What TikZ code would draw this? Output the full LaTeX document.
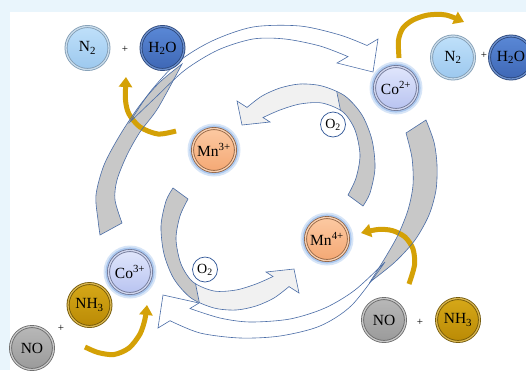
\documentclass[tikz,border=0pt]{standalone}
\usepackage{fontspec}
\setmainfont{Liberation Serif}
\usetikzlibrary{arrows.meta}
\definecolor{bgblue}{HTML}{E9F5FC}
\definecolor{edge}{HTML}{4A6DA7}
\definecolor{band}{HTML}{C8C8C8}
\definecolor{lightband}{HTML}{F1F1F1}
\definecolor{gold}{HTML}{D4A106}
\definecolor{golddk}{HTML}{A77E00}
\definecolor{glow}{HTML}{8FB6EA}
\definecolor{otwoedge}{HTML}{2F5597}
\definecolor{ntT}{HTML}{BFE0FA}\definecolor{ntB}{HTML}{9CC8EE}\definecolor{ntR}{HTML}{7F9BB3}\definecolor{ntL}{HTML}{C9DCEB}
\definecolor{hoT}{HTML}{5A88D6}\definecolor{hoB}{HTML}{3E67B5}\definecolor{hoR}{HTML}{2A4579}\definecolor{hoL}{HTML}{6C8FCB}
\definecolor{coT}{HTML}{E0E6FC}\definecolor{coB}{HTML}{B8C3F0}\definecolor{coR}{HTML}{6D7493}\definecolor{coL}{HTML}{D0D6EE}
\definecolor{mnT}{HTML}{FCC9A2}\definecolor{mnB}{HTML}{F4A874}\definecolor{mnR}{HTML}{8E603F}\definecolor{mnL}{HTML}{F8CFB0}
\definecolor{nhT}{HTML}{D6A818}\definecolor{nhB}{HTML}{BA8A05}\definecolor{nhR}{HTML}{6E5404}\definecolor{nhL}{HTML}{D8B550}
\definecolor{noT}{HTML}{B8B8B8}\definecolor{noB}{HTML}{9A9A9A}\definecolor{noR}{HTML}{666666}\definecolor{noL}{HTML}{C8C8C8}
\tikzset{
  ballst/.style={circle, minimum size=43pt, inner sep=0pt, line width=0.8pt, double distance=1.3pt, font=\fontsize{15.5}{17}\selectfont},
  ntball/.style={ballst, top color=ntT, bottom color=ntB, draw=ntR, double=ntL},
  hoball/.style={ballst, top color=hoT, bottom color=hoB, draw=hoR, double=hoL},
  coball/.style={ballst, top color=coT, bottom color=coB, draw=coR, double=coL},
  mnball/.style={ballst, top color=mnT, bottom color=mnB, draw=mnR, double=mnL},
  nhball/.style={ballst, top color=nhT, bottom color=nhB, draw=nhR, double=nhL},
  noball/.style={ballst, top color=noT, bottom color=noB, draw=noR, double=noL},
  oxy/.style={circle, minimum size=25pt, inner sep=0pt, fill=white, draw=otwoedge, line width=0.7pt, font=\fontsize{14}{16}\selectfont},
  plus/.style={font=\fontsize{11}{12}\selectfont, inner sep=0pt},
  edgeline/.style={draw=edge, line width=0.6pt},
  goldarrow/.style={draw=gold, line width=5pt, line cap=butt, -{Triangle[width=13pt,length=10pt]}},
}
\newcommand\glowat[1]{\fill[glow, opacity=0.35] (#1) circle (26.5); \fill[glow, opacity=0.6] (#1) circle (24.6);}
\begin{document}
\begin{tikzpicture}[x=1pt,y=-1pt]
\useasboundingbox (0,0) rectangle (526,370);
\fill[bgblue] (0,0) rectangle (526,370);
\fill[white] (10,12) rectangle (526,370);

\def\OoneRib{plot[smooth] coordinates {(130,122) (150,92) (178,62) (212,41) (253,27) (300,26) (340,35) (367,45.5)} -- (378,39) -- (373,72) -- (337,63) -- plot[smooth] coordinates {(348,56.6) (320,46) (285,39) (253,39) (218,50) (185,70) (155,98) (130,122)} -- cycle}
\def\OoneBand{plot[smooth] coordinates {(182,64) (160,82) (140,105) (120,135) (104,165) (96,195) (98,220) (100,235)} -- plot[smooth] coordinates {(122,223) (115,200) (117,180) (127,155) (140,132) (158,108) (182,64)} -- cycle}
\def\OtwoRib{plot[smooth] coordinates {(385,262) (355,290) (325,308) (290,319) (250,322) (220,318) (190,308.5)} -- (199,303) -- (163,295) -- (158,328) -- plot[smooth] coordinates {(170,320.7) (200,333) (240,338) (280,336) (320,326) (352,305) (385,262)} -- cycle}
\def\OtwoBand{plot[smooth] coordinates {(426,120) (434,142) (437,165) (436,190) (429,215) (415,240) (395,262) (370,282)} -- plot[smooth] coordinates {(370,282) (385,258) (398,235) (408,210) (413,185) (412,158) (406,133)} -- cycle}
\def\Mpath{(237,101) -- plot[smooth] coordinates {(247,107.4) (262,96) (280,88) (300,84) (322,86) (345,96) (362,115) (372,140) (375,168) (370,193) (363,206)} -- plot[smooth] coordinates {(348,195) (356,178) (360,155) (355,130) (343,112) (322,103) (300,104) (280,110) (263,117.5)} -- (270,122) -- (242,125) -- cycle}

% inner Mn cycle arrows
\foreach \ang in {0,180}{
\begin{scope}[rotate around={\ang:(268,197)}]
  \fill[lightband] \Mpath;
  \begin{scope}
    \clip \Mpath;
    \fill[band] (334,78) -- (420,78) -- (420,230) -- (330,230) -- (342,118) -- cycle;
    \draw[edgeline] (334,78) -- (342,118);
  \end{scope}
  \draw[edgeline] \Mpath;
\end{scope}}

% outer Co cycle arrows: fills
\fill[white] \OoneRib;
\fill[white] \OtwoRib;
\fill[band] \OoneBand;
\fill[band] \OtwoBand;

% gold arrows
\draw[goldarrow] plot[smooth] coordinates {(176,131) (158,134) (140,127) (129,114) (125.5,100) (126,77)};
\draw[goldarrow] plot[smooth] coordinates {(399,58) (398.5,40) (403,28) (413,20) (428,15) (446,15) (464,22)};
\draw[goldarrow] plot[smooth] coordinates {(409,284) (414.5,265) (413,249) (405,237) (392,230.5) (378,229.5) (361,233)};
\draw[goldarrow] plot[smooth] coordinates {(85,347) (98,352.5) (114,354.5) (129,348) (140,334) (145,319) (147,305)};

% outer arrows: outlines
\draw[edgeline] \OoneRib;
\draw[edgeline] \OoneBand;
\draw[edgeline] \OtwoRib;
\draw[edgeline] \OtwoBand;

% glows
\glowat{214,150}
\glowat{327,239}
\glowat{396,88}
\glowat{130,272}

% balls
\node[ntball] (ntl) at (87.5,48) {N\textsubscript{2}};
\node[plus] (pl1) at (125,49) {+};
\node[hoball] (hol) at (162.5,48) {H\textsubscript{2}O};
\node[coball] (co2) at (396,88) {Co\textsuperscript{2+}};
\node[ntball] (ntr) at (453,57.5) {N\textsubscript{2}};
\node[plus] (pl2) at (484,55) {+};
\node[hoball] (hor) at (511,57.5) {H\textsubscript{2}O};
\node[mnball] (mn3) at (214,150) {Mn\textsuperscript{3+}};
\node[oxy] (ox1) at (333,124.5) {O\textsubscript{2}};
\node[mnball] (mn4) at (327,239) {Mn\textsuperscript{4+}};
\node[oxy] (ox2) at (205,269.5) {O\textsubscript{2}};
\node[coball] (co3) at (130,272) {Co\textsuperscript{3+}};
\node[nhball] (nhl) at (89.5,305) {NH\textsubscript{3}};
\node[plus] (pl3) at (61,328) {+};
\node[noball] (nol) at (32,348) {NO};
\node[noball] (nor) at (384,320) {NO};
\node[plus] (pl4) at (420,322) {+};
\node[nhball] (nhr) at (458,320) {NH\textsubscript{3}};
\end{tikzpicture}
\end{document}
